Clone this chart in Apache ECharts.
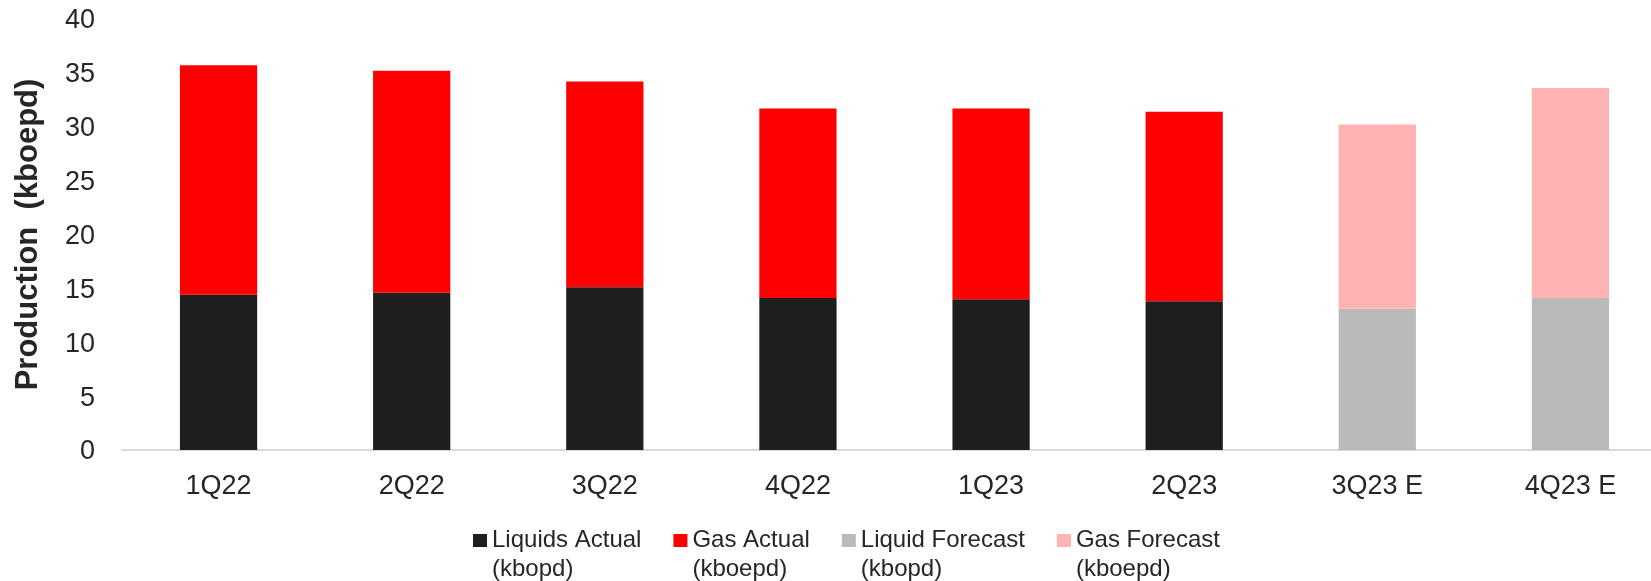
<!DOCTYPE html>
<html>
<head>
<meta charset="utf-8">
<script src="https://cdn.jsdelivr.net/npm/echarts@6/dist/echarts.min.js"></script>
<style>
  html, body { margin: 0; padding: 0; background: #ffffff; }
  #chart { width: 1651px; height: 581px; }
</style>
</head>
<body>
<div id="chart"></div>
<script>
// Quarterly production, kboe per day
const categories = ['1Q22', '2Q22', '3Q22', '4Q22', '1Q23', '2Q23', '3Q23 E', '4Q23 E'];
const liquidsActual = [14.4, 14.6, 15.1, 14.1, 14.0, 13.8, '-', '-'];
const gasActual = [21.3, 20.6, 19.1, 17.6, 17.7, 17.6, '-', '-'];
const liquidForecast = ['-', '-', '-', '-', '-', '-', 13.1, 14.1];
const gasForecast = ['-', '-', '-', '-', '-', '-', 17.1, 19.5];
const yTicks = { min: 0, max: 40, interval: 5 };

const FONT = '"Liberation Sans", Arial, sans-serif';
const TEXT = '#262626';

const chart = echarts.init(document.getElementById('chart'), null, { renderer: 'canvas' });

function barSeries(name, data, color) {
  return {
    name: name,
    type: 'bar',
    stack: 'total',
    barWidth: '40%',
    data: data,
    itemStyle: { color: color },
    emphasis: { disabled: true }
  };
}

chart.setOption({
  animation: false,
  backgroundColor: '#ffffff',
  textStyle: { fontFamily: FONT },
  grid: {
    left: 122, right: -16, top: 19, bottom: 131,
    containLabel: false,
    outerBoundsMode: 'none'
  },
  xAxis: {
    type: 'category',
    data: categories,
    axisTick: { show: false },
    axisLine: { lineStyle: { color: '#d9d9d9', width: 2 } },
    axisLabel: { color: TEXT, fontSize: 27, fontFamily: FONT, margin: 23 }
  },
  yAxis: {
    type: 'value',
    min: yTicks.min,
    max: yTicks.max,
    interval: yTicks.interval,
    name: 'Production  (kboepd)',
    nameLocation: 'middle',
    nameGap: 78,
    nameTextStyle: { color: TEXT, fontSize: 31, fontWeight: 'bold', fontFamily: FONT },
    axisLine: { show: false },
    axisTick: { show: false },
    splitLine: { show: false },
    axisLabel: {
      color: TEXT,
      fontSize: 27,
      fontFamily: FONT,
      margin: 27,
      formatter: '{v|{value}}',
      rich: { v: { color: TEXT, fontSize: 27, fontFamily: FONT, padding: [4, 0, 0, 0] } }
    }
  },
  legend: {
    left: 473,
    top: 497,
    padding: 0,
    itemGap: 32,
    itemWidth: 14,
    itemHeight: 13,
    icon: 'rect',
    selectedMode: false,
    textStyle: {
      color: TEXT,
      fontSize: 24,
      fontFamily: FONT,
      lineHeight: 29,
      rich: {
        s: { fontSize: 24, lineHeight: 29 },
        a: { color: TEXT, fontSize: 24, fontFamily: FONT, lineHeight: 29 }
      }
    },
    // first line sits level with the swatch, unit goes underneath
    formatter: function (name) {
      const parts = name.split(' (');
      return '{s| }\n{a|' + parts[0] + '}\n{a|(' + parts[1] + '}';
    },
    data: [
      'Liquids Actual (kbopd)',
      'Gas Actual (kboepd)',
      'Liquid Forecast (kbopd)',
      'Gas Forecast (kboepd)'
    ]
  },
  series: [
    barSeries('Liquids Actual (kbopd)', liquidsActual, '#1e1e1e'),
    barSeries('Gas Actual (kboepd)', gasActual, '#ff0000'),
    barSeries('Liquid Forecast (kbopd)', liquidForecast, '#bababa'),
    barSeries('Gas Forecast (kboepd)', gasForecast, '#ffb3b3')
  ]
});
</script>
</body>
</html>
